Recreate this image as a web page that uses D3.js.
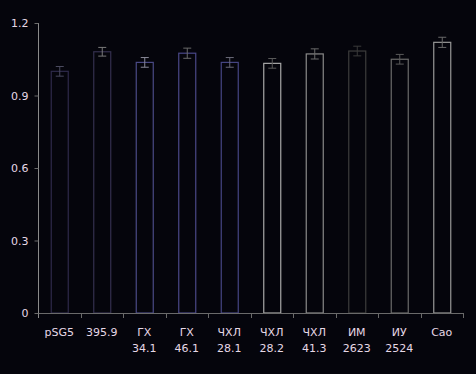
<!DOCTYPE html>
<html><head><meta charset="utf-8">
<script src="https://cdn.jsdelivr.net/npm/d3@7"></script>
<style>html,body{margin:0;padding:0;background:#05050c;}svg{display:block;}</style>
</head><body>
<script>
const categories = ["pSG5|", "395.9|", "ГХ|34.1", "ГХ|46.1", "ЧХЛ|28.1", "ЧХЛ|28.2", "ЧХЛ|41.3", "ИМ|2623", "ИУ|2524", "Cao|"];
const values = [1.0, 1.081, 1.037, 1.075, 1.037, 1.033, 1.072, 1.084, 1.05, 1.12];
const errors = [0.02, 0.018, 0.02, 0.021, 0.02, 0.02, 0.021, 0.02, 0.02, 0.021];
const yTicks = [0, 0.3, 0.6, 0.9, 1.2];
const yTickLabels = ["0", "0.3", "0.6", "0.9", "1.2"];
const barColors = ["#2e2a4a", "#34304f", "#4a4a86", "#4a4888", "#464684", "#a8a8a8", "#8a8a8a", "#3c3c3c", "#6a6a6a", "#989898"];
const errColors = ["#4a4a5e", "#7a7a7a", "#8a8a9a", "#6a6a6a", "#6a6a78", "#5a5a5a", "#6a6a6a", "#3a3a3a", "#5a5a5a", "#6a6a6a"];

const W = 476, H = 374;
const svg = d3.select("body").append("svg").attr("width", W).attr("height", H)
  .style("background", "#05050c");

const x = d3.scaleBand().domain(categories).range([38, 463]).paddingInner(0.6).paddingOuter(0.3);
const y = d3.scaleLinear().domain([0, 1.2]).range([313, 23]);

// bars
svg.append("g").selectAll("rect").data(categories).join("rect")
  .attr("x", d => x(d) + 0.5)
  .attr("y", (d, i) => y(values[i]))
  .attr("width", x.bandwidth())
  .attr("height", (d, i) => y(0) - y(values[i]))
  .attr("fill", "none")
  .attr("stroke", (d, i) => barColors[i])
  .attr("stroke-width", 1.2);

// error bars
const eg = svg.append("g");
categories.forEach((d, i) => {
  const cx = x(d) + x.bandwidth() / 2 + 0.5;
  const c = errColors[i];
  eg.append("line").attr("x1", cx).attr("x2", cx)
    .attr("y1", y(values[i] + errors[i])).attr("y2", y(values[i] - errors[i]))
    .attr("stroke", c).attr("stroke-width", 1);
  [values[i] + errors[i], values[i] - errors[i]].forEach(v => {
    eg.append("line").attr("x1", cx - 4).attr("x2", cx + 4)
      .attr("y1", y(v)).attr("y2", y(v)).attr("stroke", c).attr("stroke-width", 1);
  });
});

// x axis
const xAxisG = svg.append("g").attr("transform", `translate(0,${y(0)})`);
xAxisG.append("line").attr("x1", 38).attr("x2", 463).attr("y1", 0.5).attr("y2", 0.5)
  .attr("stroke", "#6a6a6a").attr("stroke-width", 1);
const step = x.step();
const boundaries = d3.range(1, categories.length + 1).map(k => 38 + step * k);
xAxisG.selectAll("line.tk").data(boundaries).join("line").attr("class", "tk")
  .attr("x1", d => Math.round(d) + 0.5).attr("x2", d => Math.round(d) + 0.5)
  .attr("y1", 0).attr("y2", 5).attr("stroke", "#6a6a6a");

const labG = svg.append("g").attr("font-family", "DejaVu Sans, sans-serif").attr("font-size", 11)
  .attr("fill", "#e6d8e6").attr("text-anchor", "middle");
categories.forEach((d, i) => {
  const cx = x(d) + x.bandwidth() / 2;
  const parts = d.split("|");
  labG.append("text").attr("x", cx).attr("y", 336).text(parts[0]);
  if (parts[1]) labG.append("text").attr("x", cx).attr("y", 352).text(parts[1]);
});

// y axis
const yAxis = d3.axisLeft(y).tickValues(yTicks).tickFormat((d, i) => yTickLabels[i]).tickSize(4).tickPadding(6);
const yG = svg.append("g").attr("transform", "translate(38.5,0)").call(yAxis);
yG.select(".domain").attr("stroke", "#8a8a8a").attr("d", `M0,${y(1.2)}V${y(0) + 5}`);
yG.selectAll(".tick line").attr("stroke", "#6a6a6a");
yG.selectAll(".tick text").attr("fill", "#e6d8e6").attr("font-size", 11)
  .attr("font-family", "DejaVu Sans, sans-serif");
</script>
</body></html>
